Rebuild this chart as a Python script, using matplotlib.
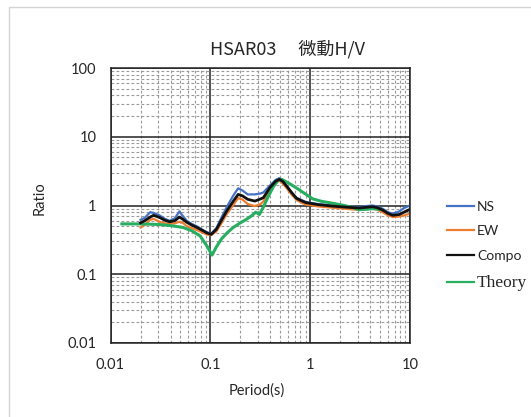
import matplotlib
matplotlib.use("Agg")
import matplotlib.pyplot as plt
from matplotlib.patches import Rectangle
from matplotlib.ticker import LogLocator, FixedLocator, NullFormatter

plt.rcParams['font.family'] = ['Lato', 'Noto Sans CJK JP', 'DejaVu Sans']

# ---- data ----
period = [0.020, 0.022, 0.025, 0.027, 0.031, 0.035, 0.039, 0.044, 0.049, 0.054,
          0.058, 0.065, 0.073, 0.082, 0.092, 0.102, 0.115, 0.13, 0.146, 0.17,
          0.19, 0.21, 0.237, 0.279, 0.32, 0.34, 0.395, 0.45, 0.49, 0.53,
          0.58, 0.65, 0.73, 0.82, 0.91, 1.2, 1.67, 2.2, 3.1, 3.6,
          4.2, 4.7, 5.3, 6.0, 6.7, 7.8, 8.7, 10.0]
ns = [0.62, 0.66, 0.80, 0.78, 0.72, 0.64, 0.60, 0.65, 0.82, 0.68,
      0.60, 0.54, 0.50, 0.45, 0.41, 0.39, 0.47, 0.68, 0.95, 1.40,
      1.78, 1.65, 1.45, 1.45, 1.50, 1.55, 1.95, 2.35, 2.50, 2.30,
      1.95, 1.55, 1.30, 1.20, 1.12, 1.05, 1.00, 0.97, 0.95, 0.98,
      1.00, 0.97, 0.90, 0.80, 0.76, 0.82, 0.92, 1.00]
ew = [0.48, 0.52, 0.62, 0.64, 0.58, 0.55, 0.54, 0.55, 0.58, 0.55,
      0.50, 0.47, 0.44, 0.41, 0.38, 0.37, 0.42, 0.56, 0.75, 1.02,
      1.28, 1.22, 1.05, 0.98, 1.05, 1.15, 1.65, 2.15, 2.30, 2.10,
      1.80, 1.45, 1.20, 1.10, 1.03, 0.97, 0.93, 0.90, 0.86, 0.88,
      0.90, 0.87, 0.80, 0.72, 0.68, 0.69, 0.72, 0.76]
compo = [0.56, 0.60, 0.68, 0.72, 0.67, 0.61, 0.58, 0.60, 0.68, 0.62,
         0.57, 0.52, 0.48, 0.44, 0.40, 0.38, 0.45, 0.62, 0.83, 1.16,
         1.45, 1.38, 1.23, 1.16, 1.25, 1.30, 1.82, 2.25, 2.40, 2.25,
         1.92, 1.55, 1.27, 1.17, 1.10, 1.03, 0.98, 0.95, 0.92, 0.94,
         0.96, 0.93, 0.86, 0.77, 0.72, 0.74, 0.80, 0.88]
theory_period = [0.013, 0.02, 0.03, 0.04, 0.053, 0.065, 0.079, 0.092, 0.104, 0.115,
                 0.13, 0.15, 0.17, 0.2, 0.23, 0.26, 0.285, 0.31, 0.34, 0.38,
                 0.43, 0.48, 0.52, 0.58, 0.65, 0.75, 0.91, 1.06, 1.3, 1.67,
                 2.2, 2.7, 3.1, 3.6, 4.2, 5.0]
theory = [0.54, 0.54, 0.53, 0.51, 0.48, 0.43, 0.36, 0.26, 0.19, 0.25,
          0.33, 0.41, 0.48, 0.56, 0.63, 0.71, 0.80, 0.74, 0.95, 1.35,
          1.90, 2.35, 2.40, 2.20, 2.00, 1.75, 1.45, 1.25, 1.15, 1.08,
          1.00, 0.93, 0.87, 0.88, 0.90, 0.88]
series_labels = ['NS', 'EW', 'Compo', 'Theory']
x_ticks = [0.01, 0.1, 1, 10]
x_tick_labels = ['0.01', '0.1', '1', '10']
y_ticks = [0.01, 0.1, 1, 10, 100]
y_tick_labels = ['0.01', '0.1', '1', '10', '100']

W, H = 531, 417
fig = plt.figure(figsize=(W / 100, H / 100), dpi=100)
fig.patch.set_facecolor('white')

# chart-area border (light gray, only left/top visible)
fig.add_artist(Rectangle((9 / W, -0.2), 1.5, 1.2 - 7 / H, transform=fig.transFigure,
                         fill=False, edgecolor='#d4d4d4', linewidth=1.0))

ax = fig.add_axes([110.5 / W, 1 - 343 / H, (410 - 110.5) / W, (343 - 68) / H])
ax.set_xscale('log')
ax.set_yscale('log')
ax.set_xlim(0.01, 10)
ax.set_ylim(0.01, 100)

ax.xaxis.set_major_locator(FixedLocator(x_ticks))
ax.yaxis.set_major_locator(FixedLocator(y_ticks))
ax.set_xticklabels(x_tick_labels)
ax.set_yticklabels(y_tick_labels)
ax.xaxis.set_minor_locator(LogLocator(base=10, subs=range(2, 10)))
ax.yaxis.set_minor_locator(LogLocator(base=10, subs=range(2, 10)))
ax.xaxis.set_minor_formatter(NullFormatter())
ax.yaxis.set_minor_formatter(NullFormatter())

ax.grid(which='minor', color='#9a9a9a', linestyle=(0, (2.5, 2.0)), linewidth=0.8)
ax.grid(which='major', color='#222222', linestyle='-', linewidth=1.1)
ax.set_axisbelow(True)
ax.tick_params(which='both', length=0)
ax.tick_params(axis='y', pad=10, labelsize=10.5, labelcolor='#262626')
ax.tick_params(axis='x', pad=11, labelsize=10.5, labelcolor='#262626')
for s in ax.spines.values():
    s.set_color('#222222')
    s.set_linewidth(1.1)

l1, = ax.plot(period, ns, color='#4472C4', linewidth=1.6, label=series_labels[0])
l2, = ax.plot(period, ew, color='#ED7D31', linewidth=1.6, label=series_labels[1])
l4, = ax.plot(theory_period, theory, color='#27AE60', linewidth=2.2, label=series_labels[3])
l3, = ax.plot(period, compo, color='#111111', linewidth=2.0, label=series_labels[2])

fig.text(287 / W, 1 - 49 / H, 'HSAR03\u3000 微動H/V', fontsize=13, color='#262626',
         ha='center', va='center', family=['Noto Sans CJK JP'])
fig.text(257 / W, 1 - 391 / H, 'Period(s)', fontsize=10.5, color='#262626',
         ha='center', va='center')
fig.text(40 / W, 1 - 198 / H, 'Ratio', fontsize=10.5, color='#262626',
         ha='center', va='center', rotation=90)

leg = fig.legend([l1, l2, l3, l4], series_labels, loc='upper left',
                 bbox_to_anchor=(441 / W, 1 - 195 / H), frameon=False,
                 fontsize=10, handlelength=2.0, handletextpad=0.2,
                 labelspacing=0.92, borderaxespad=0)
for t in leg.get_texts():
    t.set_color('#262626')
for h in leg.legend_handles:
    h.set_linewidth(1.6)
leg.get_texts()[3].set_family(['Liberation Serif'])
leg.get_texts()[3].set_fontsize(12.5)

fig.savefig('out.png', dpi=100)
